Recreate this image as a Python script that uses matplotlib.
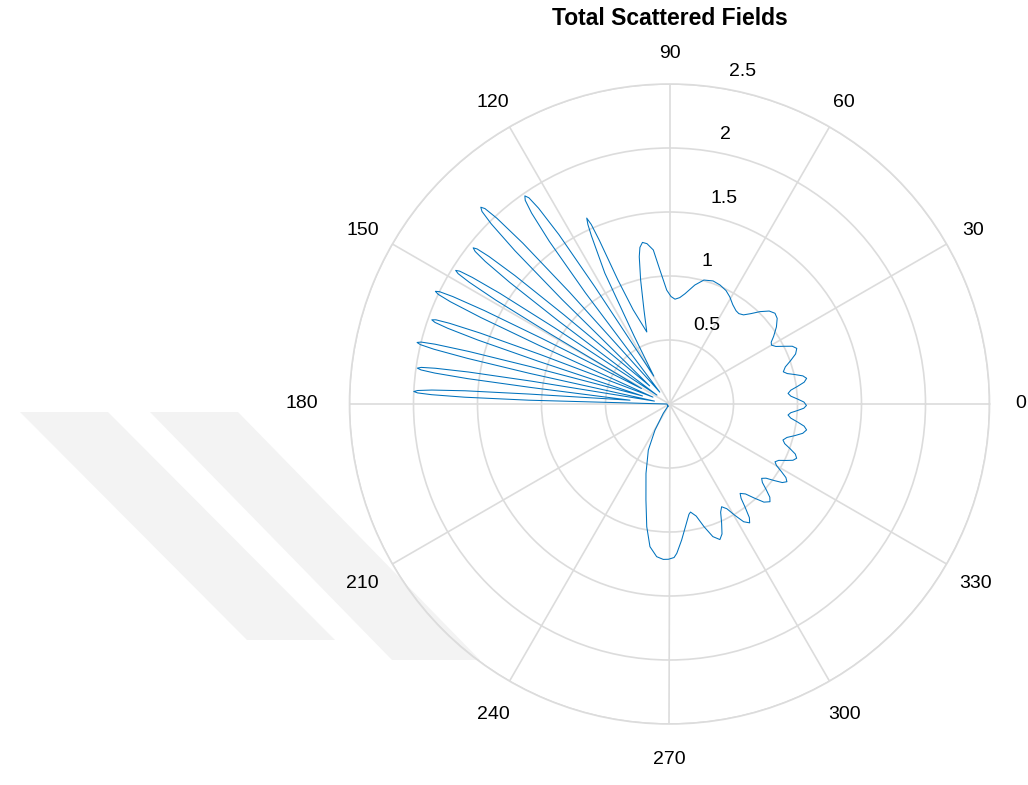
import numpy as np
import matplotlib
matplotlib.use("Agg")
import matplotlib.pyplot as plt
from matplotlib.transforms import ScaledTranslation
from matplotlib.patches import Polygon

plt.rcParams['font.family'] = ['Liberation Sans', 'DejaVu Sans']

# ---- data (angle in degrees, radius) ----
# bottom lobe + right-hand ripples (read from -125 deg up to 87 deg)
theta_right = [
    -125.0, -123.7, -119.1, -114.7, -108.7, -103.8, -100.5, -97.8, -94.8, -92.3,
    -90.4, -88.3, -87.2, -84.9, -81.3, -80.0, -79.0,
    -76.6, -74.3, -71.9, -69.6, -68.0, -66.35, -64.7, -63.1,
    -61.3, -59.55, -57.8, -56.0, -54.9, -53.85, -52.8, -51.7,
    -49.8, -47.95, -46.1, -44.2, -42.9, -41.55, -40.2, -38.9,
    -37.55, -36.2, -34.85, -33.5, -32.3, -31.1, -29.9, -28.7,
    -27.3, -25.9, -24.5, -23.1, -21.7, -20.35, -19.0, -17.6,
    -15.9, -14.15, -12.4, -10.7, -9.35, -8.0, -6.65, -5.3,
    -4.1, -2.95, -1.8, -0.6, 0.85, 2.25, 3.7, 5.1,
    6.5, 7.85, 9.2, 10.6, 11.9, 13.2, 14.5, 15.8,
    17.75, 19.7, 21.65, 23.6, 25.2, 26.8, 28.4, 30.0,
    31.3, 33.0, 35.8, 38.5, 40.7, 43.0, 45.6, 48.0, 50.3, 52.5,
    54.5, 57.5, 60.6, 63.5, 67.0, 70.5, 74.5, 78.0, 82.0, 84.5, 87.0,
]
r_right = [
    0.02, 0.087, 0.233, 0.396, 0.573, 0.772, 0.975, 1.125, 1.197, 1.215,
    1.213, 1.20, 1.168, 1.067, 0.917, 0.875, 0.86,
    0.90, 0.995, 1.09, 1.13, 1.095, 1.015, 0.935, 0.90,
    0.933, 1.01, 1.087, 1.12, 1.085, 1.005, 0.925, 0.89,
    0.92, 0.99, 1.064, 1.095, 1.07, 1.01, 0.95, 0.925,
    0.951, 1.012, 1.074, 1.10, 1.076, 1.02, 0.964, 0.94,
    0.96, 1.01, 1.06, 1.08, 1.058, 1.005, 0.952, 0.93,
    0.954, 1.01, 1.066, 1.09, 1.066, 1.01, 0.954, 0.93,
    0.95, 1.0, 1.05, 1.07, 1.05, 1.0, 0.95, 0.93,
    0.954, 1.01, 1.066, 1.09, 1.065, 1.007, 0.95, 0.924,
    0.95, 1.005, 1.06, 1.085, 1.06, 1.00, 0.945, 0.92,
    0.93, 0.97, 1.03, 1.075, 1.087, 1.065, 1.01, 0.95, 0.905, 0.89,
    0.895, 0.92, 0.96, 0.99, 1.01, 1.02, 1.005, 0.95, 0.87, 0.835, 0.82,
]
# upper lobe and the fan of narrow lobes (87 deg up to 235 deg)
theta_left = [
    89.2, 91.4, 94.1, 96.0, 98.0, 99.5, 100.7, 101.6, 103.1, 105.2, 107.5,
    111.1, 112.6, 113.2, 113.55, 114.0, 114.45, 114.9, 116.3, 117.5, 119.4,
    122.5, 123.14, 123.77, 124.29, 124.8, 125.31, 125.84, 126.46, 127.1, 129.3,
    131.8, 132.36, 132.9, 133.36, 133.8, 134.24, 134.7, 135.24, 135.8, 137.6,
    139.8, 140.28, 140.74, 141.13, 141.5, 141.87, 142.27, 142.72, 143.2, 144.7,
    146.45, 146.88, 147.3, 147.66, 148.0, 148.34, 148.7, 149.12, 149.55, 151.1,
    152.8, 153.22, 153.63, 153.97, 154.3, 154.63, 154.98, 155.38, 155.8, 157.4,
    159.05, 159.46, 159.85, 160.18, 160.5, 160.82, 161.15, 161.54, 161.95, 163.4,
    164.95, 165.33, 165.69, 166.0, 166.3, 166.6, 166.91, 167.27, 167.65, 169.1,
    170.6, 170.96, 171.32, 171.61, 171.9, 172.19, 172.49, 172.84, 173.2, 174.5,
    175.95, 176.3, 176.64, 176.93, 177.2, 177.48, 177.76, 178.1, 178.45, 179.6,
    180.5, 235.0,
]
r_left = [
    0.84, 0.89, 1.05, 1.21, 1.265, 1.28, 1.245, 1.175, 0.995, 0.76, 0.59,
    0.79, 1.05, 1.39, 1.53, 1.59, 1.54, 1.45, 1.14, 0.60, 0.25,
    1.09, 1.58, 1.84, 1.95, 1.98, 1.95, 1.84, 1.58, 1.09, 0.12,
    1.17, 1.70, 1.98, 2.10, 2.13, 2.10, 1.98, 1.70, 1.17, 0.21,
    1.08, 1.57, 1.82, 1.93, 1.96, 1.93, 1.82, 1.57, 1.08, 0.12,
    1.08, 1.58, 1.83, 1.94, 1.97, 1.94, 1.83, 1.58, 1.08, 0.25,
    1.12, 1.62, 1.89, 2.00, 2.03, 2.00, 1.89, 1.62, 1.12, 0.14,
    1.08, 1.58, 1.83, 1.94, 1.97, 1.94, 1.83, 1.58, 1.08, 0.22,
    1.12, 1.62, 1.89, 2.00, 2.03, 2.00, 1.89, 1.62, 1.12, 0.12,
    1.09, 1.59, 1.85, 1.96, 1.99, 1.96, 1.85, 1.59, 1.09, 0.31,
    1.10, 1.60, 1.86, 1.97, 2.00, 1.97, 1.86, 1.60, 1.10, 0.05,
    0.02, 0.02,
]
r_ticks = [0.5, 1.0, 1.5, 2.0, 2.5]
r_tick_labels = ['0.5', '1', '1.5', '2', '2.5']
theta_ticks = [0, 30, 60, 90, 120, 150, 180, 210, 240, 270, 300, 330]
theta_tick_labels = [str(t) for t in theta_ticks]
title_text = 'Total Scattered Fields'

W, H = 1028, 785
fig = plt.figure(figsize=(W / 100, H / 100), dpi=100)
fig.patch.set_facecolor('white')

# faint background watermark bands (figure pixel coords, y from top)
wm_color = '#f3f3f3'
for pts in ([(20, 412), (108, 412), (335, 640), (247, 640)],
            [(150, 412), (238, 412), (480, 660), (392, 660)]):
    fig.add_artist(Polygon([(x / W, 1 - y / H) for x, y in pts], closed=True,
                           transform=fig.transFigure, facecolor=wm_color,
                           edgecolor='none', zorder=0))

cx, cy, R = 669.5, 404.0, 320.0
ax = fig.add_axes([(cx - R) / W, (H - cy - R) / H, 2 * R / W, 2 * R / H],
                  projection='polar')
ax.set_facecolor('none')
ax.set_zorder(1)

theta_all = np.deg2rad(np.array(theta_right + theta_left))
r_all = np.array(r_right + r_left)
ax.plot(theta_all, r_all, color='#0072BD', lw=0.75)

grid_c = '#dcdcdc'
ax.set_rlim(0, 2.5)
ax.set_rticks(r_ticks)
ax.set_yticklabels(r_tick_labels)
ax.set_rlabel_position(82)
ax.set_thetagrids(theta_ticks, theta_tick_labels)
ax.grid(True, color=grid_c, lw=1.2)
ax.spines['polar'].set_color(grid_c)
ax.spines['polar'].set_linewidth(1.2)
ax.tick_params(axis='x', pad=11.5, labelsize=14, colors='black')
ax.tick_params(axis='y', labelsize=14)

# radial labels: nudge to sit like the reference
off_r = ScaledTranslation(14.5 / 100, 7 / 100, fig.dpi_scale_trans)
for lab in ax.get_yticklabels():
    lab.set_transform(lab.get_transform() + off_r)

# angular labels: small per-label nudges (pixels, +y = down)
nudges = {0: (1, 0), 30: (0, 2), 60: (-1, 2), 90: (0, 0), 120: (-1, 2),
          150: (-3, 2), 180: (-17, 0), 210: (-4, 4), 240: (-1, 7),
          270: (0, 5), 300: (0, 7), 330: (2, 4)}
for tick, t in zip(ax.xaxis.get_major_ticks(), theta_ticks):
    dx, dy = nudges[t]
    lab = tick.label1
    lab.set_transform(lab.get_transform() +
                      ScaledTranslation(dx / 100, -dy / 100, fig.dpi_scale_trans))

ax.set_title(title_text, fontsize=16.5, fontweight='bold',
             y=(H - 25 - (H - cy - R)) / (2 * R), pad=0, va='baseline')

fig.savefig('out.png', dpi=100)
